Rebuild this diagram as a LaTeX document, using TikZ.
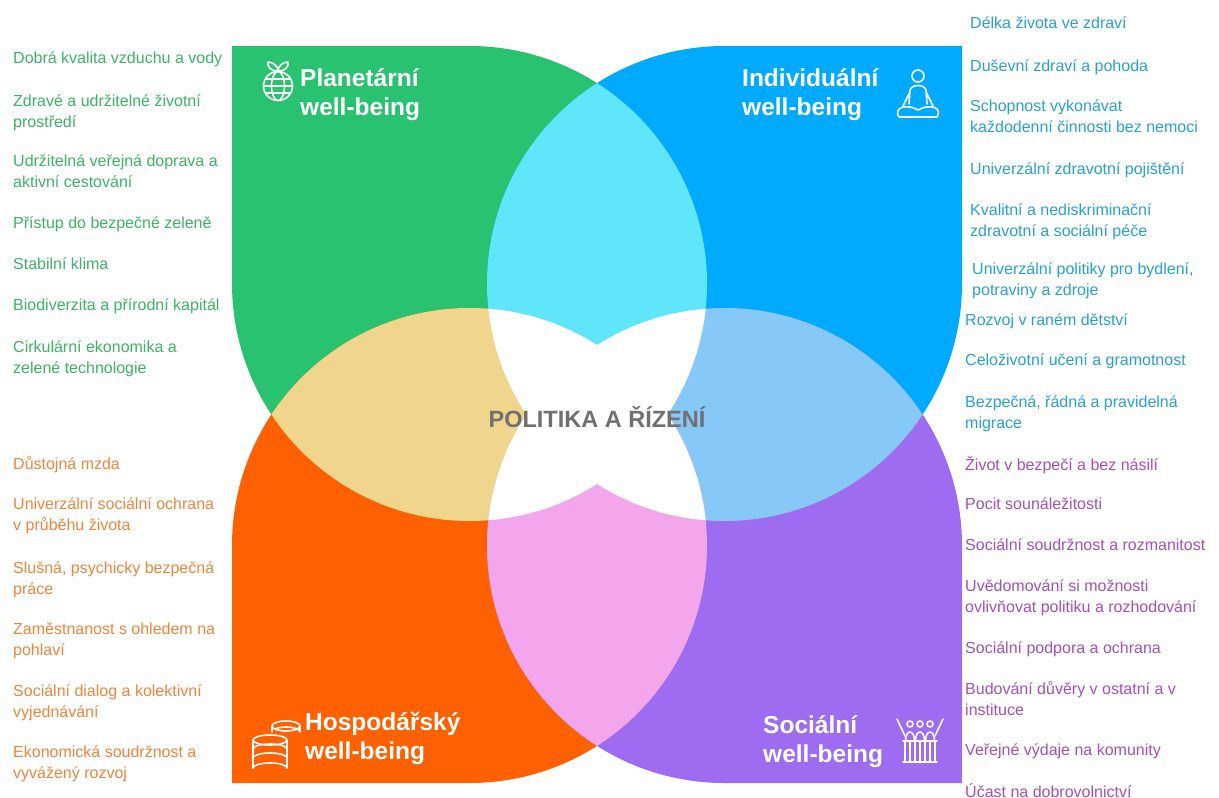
\documentclass[tikz,border=0pt]{standalone}
\usepackage{fontspec}
\setmainfont{Liberation Sans}
\definecolor{planetF}{RGB}{41,194,112}
\definecolor{indivF}{RGB}{0,170,255}
\definecolor{econF}{RGB}{255,96,0}
\definecolor{socialF}{RGB}{157,108,240}
\definecolor{cyanF}{RGB}{96,230,250}
\definecolor{sandF}{RGB}{240,214,140}
\definecolor{skyF}{RGB}{134,200,248}
\definecolor{pinkF}{RGB}{244,166,236}
\definecolor{planetT}{RGB}{60,180,100}
\definecolor{indivT}{RGB}{40,160,215}
\definecolor{econT}{RGB}{240,132,60}
\definecolor{socialT}{RGB}{165,80,185}
\definecolor{centerT}{RGB}{112,112,112}
% one petal: centre x, centre y, angle where the square corner starts, options
\newcommand{\petal}[4]{\path[#4] (#1,#2) ++(#3:237.5) -- ++(#3+90:237.5) -- ++(#3+180:237.5)
    arc[start angle=#3+90, end angle=#3+360, radius=237.5] -- cycle;}
\newcommand{\planetpetal}[1]{\petal{469.5}{283.5}{180}{#1}}
\newcommand{\indivpetal}[1]{\petal{724.5}{283.5}{270}{#1}}
\newcommand{\econpetal}[1]{\petal{469.5}{545.5}{90}{#1}}
\newcommand{\socialpetal}[1]{\petal{724.5}{545.5}{0}{#1}}
\begin{document}
\begin{tikzpicture}[x=1pt,y=-1pt,
    item/.style={anchor=base west, align=left, inner sep=0pt, font=\fontsize{16}{21}\selectfont},
    title/.style={anchor=base west, align=left, inner sep=0pt, text=white, font=\bfseries\fontsize{24.5}{29}\selectfont},
    iconline/.style={draw=white, line width=1.6pt, line cap=round, line join=round}]
    \useasboundingbox (0,0) rectangle (1219,798);
    \planetpetal{fill=planetF}
    \indivpetal{fill=indivF}
    \econpetal{fill=econF}
    \socialpetal{fill=socialF}
    % two petals
    \begin{scope}\planetpetal{clip}\indivpetal{fill=cyanF}\end{scope}
    \begin{scope}\planetpetal{clip}\econpetal{fill=sandF}\end{scope}
    \begin{scope}\indivpetal{clip}\socialpetal{fill=skyF}\end{scope}
    \begin{scope}\econpetal{clip}\socialpetal{fill=pinkF}\end{scope}
    % three or four petals
    \begin{scope}\planetpetal{clip}\indivpetal{clip}\econpetal{fill=white}\socialpetal{fill=white}\end{scope}
    \begin{scope}\econpetal{clip}\socialpetal{clip}\planetpetal{fill=white}\indivpetal{fill=white}\end{scope}

    \node[anchor=base, inner sep=0pt, text=centerT, font=\bfseries\fontsize{23.5}{28}\selectfont] (policy) at (597,427) {POLITIKA A ŘÍZENÍ};

    % base = last line
    \node[title] (planet) at (300,115) {Planetární\\well-being};
    \node[title] (indiv) at (742,115) {Individuální\\well-being};
    \node[title] (econ) at (305,759) {Hospodářský\\well-being};
    \node[title] (social) at (763,762) {Sociální\\well-being};

    % icons
    \draw[iconline] (278,86) circle[radius=14.5] (278,86) ellipse[x radius=6.5, y radius=14.5]
        (266,79) -- (290,79) (263.5,86) -- (292.5,86) (266,93) -- (290,93);
    \draw[iconline] (278,71) .. controls (270,71) and (267,66) .. (268,62) .. controls (273,62) and (278,66) .. (278,71)
        .. controls (286,71) and (289,66) .. (288,62) .. controls (283,62) and (278,66) .. (278,71);
    \draw[iconline] (918,76) circle[radius=6];
    \draw[iconline] (909,104) -- (910,90) .. controls (912,84) and (924,84) .. (926,90) -- (927,104)
        (910,92) -- (903,106) (926,92) -- (933,106);
    \draw[iconline] (899,117) .. controls (893,108) and (906,103) .. (918,110) .. controls (930,103) and (943,108) .. (937,117) -- cycle;
    \draw[iconline] (270,740) ellipse[x radius=17, y radius=5]
        (253,740) -- (253,768) (287,740) -- (287,768);
    \foreach \yy in {749,758,768}
        \draw[iconline] (253,\yy) arc[start angle=180, end angle=0, x radius=17, y radius=-5];
    \draw[iconline] (286,726) ellipse[x radius=14, y radius=5] (272,726) -- (272,732) (300,726) -- (300,732)
        (300,732) arc[start angle=0, end angle=135, x radius=14, y radius=-5];
    \foreach \xx in {910,920,930}
        \draw[iconline] (\xx,724) circle[radius=3] (\xx-4.5,741) .. controls (\xx-4.5,729) and (\xx+4.5,729) .. (\xx+4.5,741);
    \draw[iconline] (897,719) -- (905,736) (943,719) -- (935,736) (903,741) -- (937,741) (903,762) -- (937,762);
    \foreach \xx in {905,910,915,920,925,930,935}
        \draw[iconline] (\xx,741) -- (\xx,762);

    % lists (y = baseline of the last line)
    \foreach \txt/\yy [count=\i] in {Dobrá kvalita vzduchu a vody/63, {Zdravé a udržitelné životní\\prostředí}/127,
        {Udržitelná veřejná doprava a\\aktivní cestování}/187, Přístup do bezpečné zeleně/228, Stabilní klima/269,
        Biodiverzita a přírodní kapitál/310, {Cirkulární ekonomika a\\zelené technologie}/373}
        \node[item, text=planetT] (planet\i) at (13,\yy) {\txt};
    \foreach \txt/\yy [count=\i] in {Důstojná mzda/469, {Univerzální sociální ochrana\\v průběhu života}/530,
        {Slušná, psychicky bezpečná\\práce}/594, {Zaměstnanost s ohledem na\\pohlaví}/655,
        {Sociální dialog a kolektivní\\vyjednávání}/717, {Ekonomická soudržnost a\\vyvážený rozvoj}/778}
        \node[item, text=econT] (econ\i) at (13,\yy) {\txt};
    \foreach \txt/\xx/\yy [count=\i] in {Délka života ve zdraví/970/28, Duševní zdraví a pohoda/970/71,
        {Schopnost vykonávat\\každodenní činnosti bez nemoci}/970/132, Univerzální zdravotní pojištění/970/174,
        {Kvalitní a nediskriminační\\zdravotní a sociální péče}/970/236,
        {Univerzální politiky pro bydlení,\\potraviny a zdroje}/972/295, Rozvoj v raném dětství/965/325,
        Celoživotní učení a gramotnost/965/365, {Bezpečná, řádná a pravidelná\\migrace}/965/428}
        \node[item, text=indivT] (indiv\i) at (\xx,\yy) {\txt};
    \foreach \txt/\yy [count=\i] in {Život v bezpečí a bez násilí/470, Pocit sounáležitosti/509,
        Sociální soudržnost a rozmanitost/550, {Uvědomování si možnosti\\ovlivňovat politiku a rozhodování}/612,
        Sociální podpora a ochrana/653, {Budování důvěry v ostatní a v\\instituce}/715,
        Veřejné výdaje na komunity/755, Účast na dobrovolnictví/797}
        \node[item, text=socialT] (social\i) at (965,\yy) {\txt};
\end{tikzpicture}
\end{document}
